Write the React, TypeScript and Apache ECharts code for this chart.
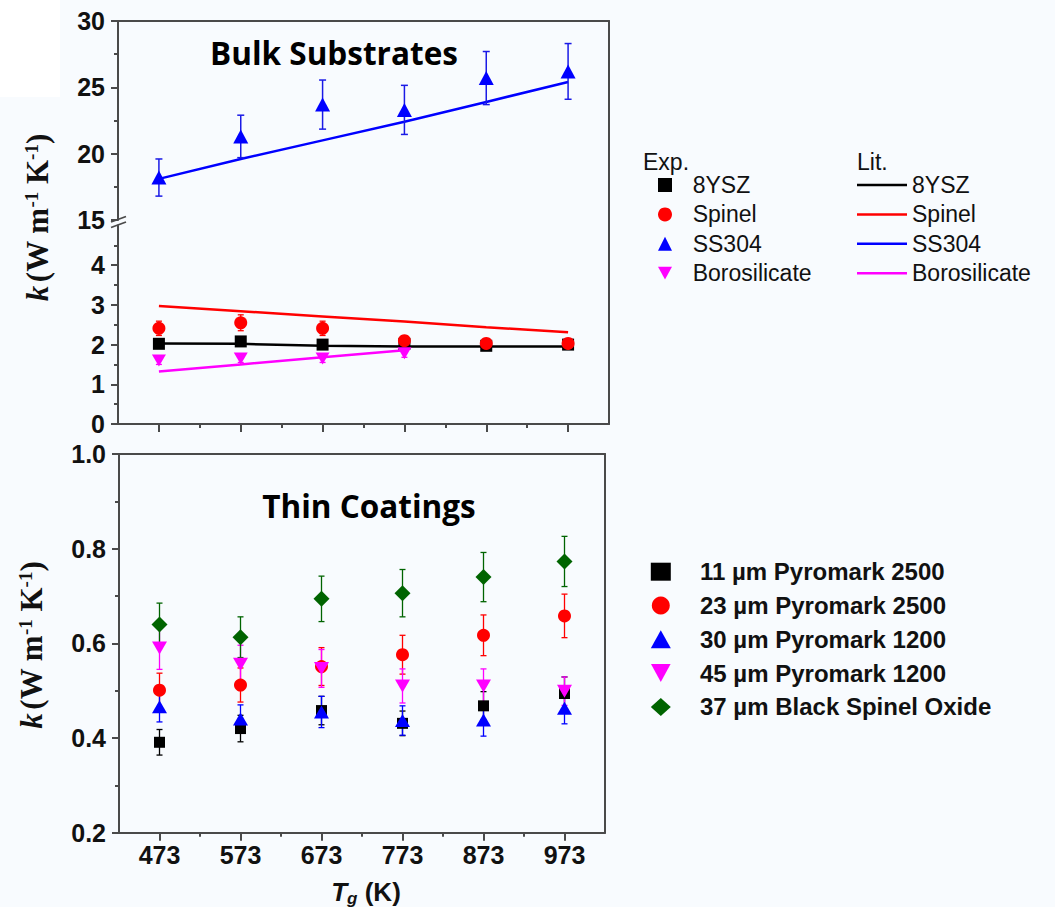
import React, { useEffect, useRef } from 'react';
import * as echarts from 'echarts';

// ---------- data ----------
const temps = [473, 573, 673, 773, 873, 973];
const xMajorTicks = [473, 573, 673, 773, 873, 973];
const xMinorTicks = [523, 623, 723, 823, 923];
const bulkLowerTicks = [0, 1, 2, 3, 4];

// Bulk substrates, experiment
const ysz8Exp = [2.02, 2.08, 2.0, 2.02, 1.97, 2.0];
const ysz8Err = [0.1, 0.1, 0.1, 0.08, 0.08, 0.08];
const spinelExp = [2.41, 2.55, 2.41, 2.1, 2.03, 2.03];
const spinelErr = [0.18, 0.2, 0.18, 0.1, 0.1, 0.1];
const ss304Exp = [18.2, 21.3, 23.7, 23.3, 25.7, 26.2];
const ss304Err = [1.4, 1.6, 1.85, 1.85, 2.0, 2.1];
const boroExp = [1.6, 1.65, 1.65, 1.78];
const boroErr = [0.1, 0.1, 0.1, 0.1];

// Bulk substrates, literature
const ysz8Lit = [2.03, 2.02, 1.97, 1.95, 1.95, 1.95];
const spinelLit = [2.97, 2.84, 2.71, 2.58, 2.44, 2.31];
const ss304Lit = [18.1, 19.6, 21.0, 22.4, 23.9, 25.4];
const boroLit = [1.32, 1.5, 1.68, 1.86];

// Thin coatings
const pm2500_11 = [0.391, 0.42, 0.458, 0.431, 0.468, 0.494];
const pm2500_11Err = [0.027, 0.028, 0.03, 0.026, 0.03, 0.035];
const pm2500_23 = [0.501, 0.512, 0.551, 0.576, 0.617, 0.658];
const pm2500_23Err = [0.036, 0.036, 0.04, 0.041, 0.043, 0.046];
const pm1200_30 = [0.466, 0.44, 0.455, 0.437, 0.438, 0.463];
const pm1200_30Err = [0.032, 0.03, 0.033, 0.031, 0.034, 0.033];
const pm1200_45 = [0.59, 0.556, 0.547, 0.51, 0.51, 0.499];
const pm1200_45Err = [0.045, 0.04, 0.04, 0.036, 0.036, 0.03];
const bso_37 = [0.64, 0.613, 0.694, 0.706, 0.74, 0.773];
const bso_37Err = [0.045, 0.043, 0.048, 0.05, 0.052, 0.053];

const bulkNames = ['8YSZ', 'Spinel', 'SS304', 'Borosilicate'];
const litNames = ['Lit. 8YSZ', 'Lit. Spinel', 'Lit. SS304', 'Lit. Borosilicate'];
const coatNames = [
  '11 µm Pyromark 2500',
  '23 µm Pyromark 2500',
  '30 µm Pyromark 1200',
  '45 µm Pyromark 1200',
  '37 µm Black Spinel Oxide',
];

// ---------- styles ----------
const SANS = "'Liberation Sans', Arial, sans-serif";
const SERIF = "'Liberation Serif', 'Times New Roman', serif";
const TITLE = "'Open Sans', sans-serif";
const AX = '#4a4a4a';
const BLACK = '#000000';
const RED = '#ff0000';
const BLUE = '#0000ff';
const MAGENTA = '#ff00ff';
const GREEN = '#006400';
const DOWN_TRI = 'path://M0,0L12,0L6,11Z';

const pts = (vals: number[]) => vals.map((v, i) => [temps[i], v]);
const ptsE = (vals: number[], errs: number[]) => vals.map((v, i) => [temps[i], v, errs[i]]);

const axisLineStyle = { color: AX, width: 2 };
const labelStyle = { fontSize: 25, fontWeight: 'bold', color: '#111', fontFamily: SANS };

function frameX(gridIndex: number) {
  return {
    type: 'value', gridIndex, position: 'top', min: 0, max: 1,
    axisLine: { show: true, onZero: false, lineStyle: axisLineStyle },
    axisTick: { show: false }, axisLabel: { show: false }, splitLine: { show: false },
  };
}
function frameY(gridIndex: number) {
  return {
    type: 'value', gridIndex, position: 'right', min: 0, max: 1,
    axisLine: { show: true, onZero: false, lineStyle: axisLineStyle },
    axisTick: { show: false }, axisLabel: { show: false }, splitLine: { show: false },
  };
}
function tickX(gridIndex: number, values: number[], length: number, line: boolean, labels: boolean) {
  return {
    type: 'value', gridIndex, position: 'bottom', min: 423, max: 1023,
    axisLine: { show: line, onZero: false, lineStyle: axisLineStyle },
    axisTick: { show: true, customValues: values, length, lineStyle: { color: AX, width: 2 } },
    axisLabel: { show: labels, customValues: values, margin: 10, ...labelStyle },
    splitLine: { show: false },
  };
}

function errSeries(xi: number, yi: number, data: number[][], color: string, cap: number, width: number) {
  return {
    type: 'custom', xAxisIndex: xi, yAxisIndex: yi, z: 2, silent: true,
    data, encode: { x: 0, y: 1 },
    renderItem: (params: any, api: any) => {
      const x = api.value(0), y = api.value(1), e = api.value(2);
      const p1 = api.coord([x, y + e]);
      const p2 = api.coord([x, y - e]);
      const st = { stroke: color, lineWidth: width };
      return {
        type: 'group',
        children: [
          { type: 'line', shape: { x1: p1[0], y1: p1[1], x2: p2[0], y2: p2[1] }, style: st },
          { type: 'line', shape: { x1: p1[0] - cap / 2, y1: p1[1], x2: p1[0] + cap / 2, y2: p1[1] }, style: st },
          { type: 'line', shape: { x1: p2[0] - cap / 2, y1: p2[1], x2: p2[0] + cap / 2, y2: p2[1] }, style: st },
        ],
      };
    },
  };
}
function scatter(name: string, xi: number, yi: number, data: number[][], symbol: string, size: any, color: string, rotate = 0) {
  return {
    type: 'scatter', name, xAxisIndex: xi, yAxisIndex: yi, data, symbol, symbolSize: size,
    symbolRotate: rotate, itemStyle: { color, opacity: 1 }, z: 3, silent: true,
    emphasis: { disabled: true },
  };
}
function litLine(name: string, xi: number, yi: number, data: number[][], color: string) {
  return {
    type: 'line', name, xAxisIndex: xi, yAxisIndex: yi, data, symbol: 'none',
    lineStyle: { color, width: 2.5 }, itemStyle: { color }, z: 1, silent: true,
    emphasis: { disabled: true },
  };
}

export default function App() {
  const ref = useRef<HTMLDivElement>(null);
  useEffect(() => {
    if (!ref.current) return;
    const chart = echarts.init(ref.current, undefined, { renderer: 'svg' });
    const option: any = {
      animation: false,
      backgroundColor: '#f8fbfe',
      grid: [
        { left: 118, top: 21, width: 491, height: 199, outerBoundsMode: 'none' },
        { left: 118, top: 225.5, width: 491, height: 198.5, outerBoundsMode: 'none' },
        { left: 118, top: 21, width: 491, height: 403, outerBoundsMode: 'none' },
        { left: 119, top: 454, width: 486, height: 378.7, outerBoundsMode: 'none' },
      ],
      xAxis: [
        { type: 'value', gridIndex: 0, min: 423, max: 1023, show: false },
        tickX(1, xMajorTicks, 8, true, false),
        tickX(1, xMinorTicks, 4, false, false),
        frameX(2),
        tickX(3, xMajorTicks, 8, true, true),
        tickX(3, xMinorTicks, 4, false, false),
        frameX(3),
      ],
      yAxis: [
        {
          type: 'value', gridIndex: 0, position: 'left', min: 15, max: 30, interval: 5,
          axisLine: { show: true, onZero: false, lineStyle: axisLineStyle },
          axisTick: { show: true, length: 7, lineStyle: { color: AX, width: 2 } },
          minorTick: { show: true, splitNumber: 2, length: 4, lineStyle: { color: AX, width: 2 } },
          axisLabel: { margin: 13, ...labelStyle },
          splitLine: { show: false }, minorSplitLine: { show: false },
        },
        {
          type: 'value', gridIndex: 1, position: 'left', min: 0, max: 5, interval: 1,
          axisLine: { show: true, onZero: false, lineStyle: axisLineStyle },
          axisTick: { show: true, length: 7, customValues: bulkLowerTicks, lineStyle: { color: AX, width: 2 } },
          minorTick: { show: true, splitNumber: 2, length: 4, lineStyle: { color: AX, width: 2 } },
          axisLabel: { margin: 13, customValues: bulkLowerTicks, ...labelStyle },
          splitLine: { show: false }, minorSplitLine: { show: false },
        },
        frameY(2),
        {
          type: 'value', gridIndex: 3, position: 'left', min: 0.2, max: 1.0, interval: 0.2,
          axisLine: { show: true, onZero: false, lineStyle: axisLineStyle },
          axisTick: { show: true, length: 7, lineStyle: { color: AX, width: 2 } },
          minorTick: { show: true, splitNumber: 2, length: 4, lineStyle: { color: AX, width: 2 } },
          axisLabel: { margin: 13, formatter: (v: number) => v.toFixed(1), ...labelStyle },
          splitLine: { show: false }, minorSplitLine: { show: false },
        },
        frameY(3),
      ],
      legend: [
        {
          data: bulkNames.map((n) => (n === 'Borosilicate' ? { name: n, icon: DOWN_TRI } : n)),
          orient: 'vertical', left: 658, top: 173.5,
          itemWidth: 14, itemHeight: 14, itemGap: 6.4, selectedMode: false, padding: 0,
          textStyle: { fontSize: 23, lineHeight: 23, color: '#111', fontFamily: SANS, padding: [0, 0, 0, 15.7] },
        },
        {
          data: litNames, orient: 'vertical', left: 857, top: 173.5,
          icon: 'rect', symbolKeepAspect: false,
          itemWidth: 50, itemHeight: 2.5, itemGap: 6.4, selectedMode: false, padding: 0,
          formatter: (n: string) => n.replace('Lit. ', ''),
          textStyle: { fontSize: 23, lineHeight: 23, color: '#111', fontFamily: SANS },
        },
        {
          data: coatNames.map((n) => (n === '45 µm Pyromark 1200' ? { name: n, icon: DOWN_TRI } : n)),
          orient: 'vertical', left: 650.8, top: 559.7,
          itemWidth: 20, itemHeight: 18, itemGap: 9.8, selectedMode: false, padding: 0,
          textStyle: { fontSize: 24, lineHeight: 24, fontWeight: 'bold', color: '#111', fontFamily: SANS, padding: [0, 0, 0, 24.2] },
        },
      ],
      series: [
        // Bulk upper (SS304)
        litLine(litNames[2], 0, 0, pts(ss304Lit), BLUE),
        errSeries(0, 0, ptsE(ss304Exp, ss304Err), '#1a1ae6', 7, 1.5),
        scatter(bulkNames[2], 0, 0, pts(ss304Exp), 'triangle', [15, 14], BLUE),
        // Bulk lower
        litLine(litNames[0], 1, 1, pts(ysz8Lit), BLACK),
        litLine(litNames[1], 1, 1, pts(spinelLit), RED),
        litLine(litNames[3], 1, 1, pts(boroLit), MAGENTA),
        errSeries(1, 1, ptsE(ysz8Exp, ysz8Err), BLACK, 6, 1.3),
        errSeries(1, 1, ptsE(spinelExp, spinelErr), RED, 6, 1.3),
        errSeries(1, 1, ptsE(boroExp, boroErr), MAGENTA, 6, 1.3),
        scatter(bulkNames[0], 1, 1, pts(ysz8Exp), 'rect', 12, BLACK),
        scatter(bulkNames[1], 1, 1, pts(spinelExp), 'circle', 13, RED),
        scatter(bulkNames[3], 1, 1, pts(boroExp), 'triangle', [14, 12], MAGENTA, 180),
        // Thin coatings
        errSeries(4, 3, ptsE(pm2500_11, pm2500_11Err), BLACK, 6, 1.3),
        errSeries(4, 3, ptsE(pm2500_23, pm2500_23Err), RED, 6, 1.3),
        errSeries(4, 3, ptsE(pm1200_30, pm1200_30Err), BLUE, 6, 1.3),
        errSeries(4, 3, ptsE(pm1200_45, pm1200_45Err), MAGENTA, 6, 1.3),
        errSeries(4, 3, ptsE(bso_37, bso_37Err), GREEN, 6, 1.3),
        scatter(coatNames[0], 4, 3, pts(pm2500_11), 'rect', 11, BLACK),
        scatter(coatNames[1], 4, 3, pts(pm2500_23), 'circle', 13, RED),
        scatter(coatNames[2], 4, 3, pts(pm1200_30), 'triangle', [15, 13], BLUE),
        scatter(coatNames[3], 4, 3, pts(pm1200_45), 'triangle', [15, 13], MAGENTA, 180),
        scatter(coatNames[4], 4, 3, pts(bso_37), 'diamond', [16, 16], GREEN),
      ],
      graphic: [
        { type: 'rect', shape: { x: 0, y: 0, width: 60, height: 97 }, style: { fill: '#ffffff' }, z: -10, silent: true },
        // axis break marks
        { type: 'line', shape: { x1: 111, y1: 222, x2: 126, y2: 216.5 }, style: { stroke: AX, lineWidth: 1.8 }, z: 10 },
        { type: 'line', shape: { x1: 111, y1: 227.5, x2: 126, y2: 222 }, style: { stroke: AX, lineWidth: 1.8 }, z: 10 },
        // panel titles
        {
          type: 'text', x: 334, y: 52, z: 10,
          style: { text: 'Bulk Substrates', fontSize: 31.5, fontWeight: 'bold', fontFamily: TITLE, fill: '#000', align: 'center', verticalAlign: 'middle' },
        },
        {
          type: 'text', x: 369, y: 505, z: 10,
          style: { text: 'Thin Coatings', fontSize: 31.5, fontWeight: 'bold', fontFamily: TITLE, fill: '#000', align: 'center', verticalAlign: 'middle' },
        },
        // legend headers
        { type: 'text', x: 643, y: 162, style: { text: 'Exp.', fontSize: 23, fontFamily: SANS, fill: '#111', align: 'left', verticalAlign: 'middle' } },
        { type: 'text', x: 857, y: 162, style: { text: 'Lit.', fontSize: 23, fontFamily: SANS, fill: '#111', align: 'left', verticalAlign: 'middle' } },
        // y-axis titles
        ...[[37, 217.5], [31, 645]].map(([x, y]) => ({
          type: 'text', x, y, rotation: Math.PI / 2, z: 10,
          style: {
            text: '{k|k} {n|(W m}{s|-1}{n| K}{s|-1}{n|)}',
            align: 'center', verticalAlign: 'middle', fill: '#111',
            rich: {
              k: { fontSize: 31, lineHeight: 31, fontStyle: 'italic', fontWeight: 'bold', fontFamily: SERIF, fill: '#111' },
              n: { fontSize: 31, lineHeight: 31, fontWeight: 'bold', fontFamily: SERIF, fill: '#111' },
              s: { fontSize: 19, lineHeight: 19, fontWeight: 'bold', fontFamily: SERIF, fill: '#111', verticalAlign: 'top' },
            },
          },
        })),
        // x-axis title
        {
          type: 'text', x: 366, y: 892, z: 10,
          style: {
            text: '{t|T}{g|g}{n| (K)}',
            align: 'center', verticalAlign: 'middle', fill: '#111',
            rich: {
              t: { fontSize: 26, lineHeight: 30, fontStyle: 'italic', fontWeight: 'bold', fontFamily: SANS, fill: '#111' },
              g: { fontSize: 17, lineHeight: 17, fontStyle: 'italic', fontWeight: 'bold', fontFamily: SANS, fill: '#111', verticalAlign: 'bottom' },
              n: { fontSize: 26, lineHeight: 30, fontWeight: 'bold', fontFamily: SANS, fill: '#111' },
            },
          },
        },
      ],
    };
    chart.setOption(option);
    return () => chart.dispose();
  }, []);
  return <div ref={ref} style={{ position: 'fixed', left: 0, top: 0, width: 1055, height: 907 }} />;
}
